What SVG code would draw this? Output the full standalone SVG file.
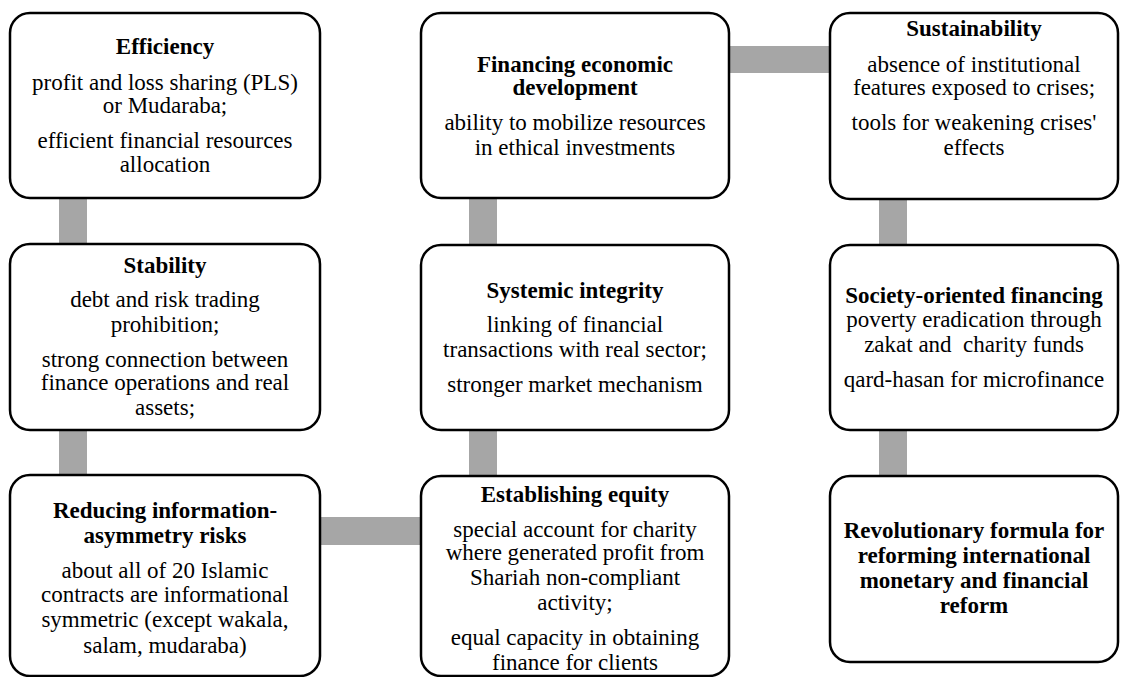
<svg xmlns="http://www.w3.org/2000/svg" width="1130" height="677" viewBox="0 0 1130 677">
  <style>
    .box { fill: #ffffff; stroke: #000000; stroke-width: 2.5; }
    .bar { fill: #a6a6a6; }
    text { font-family: "Liberation Serif", "Times New Roman", serif; font-size: 23px; fill: #000000; text-anchor: middle; }
    .t { font-weight: bold; }
  </style>

  <!-- thick grey links between the blocks -->
  <g id="connectors">
    <rect class="bar" x="59" y="196" width="28" height="50"/>
    <rect class="bar" x="59" y="428" width="28" height="49"/>
    <rect class="bar" x="469" y="196" width="28" height="51"/>
    <rect class="bar" x="469" y="428" width="28" height="50"/>
    <rect class="bar" x="879" y="197" width="28" height="50"/>
    <rect class="bar" x="879" y="428" width="28" height="50"/>
    <rect class="bar" x="727" y="46" width="105" height="27"/>
    <rect class="bar" x="318" y="517" width="105" height="28"/>
  </g>

  <g id="efficiency">
    <rect class="box" x="10" y="13" width="310" height="185" rx="20"/>
    <text class="t" x="165" y="54">Efficiency</text>
    <text x="165" y="90">profit and loss sharing (PLS)</text>
    <text x="165" y="113">or Mudaraba;</text>
    <text x="165" y="148">efficient financial resources</text>
    <text x="165" y="172">allocation</text>
  </g>

  <g id="financing">
    <rect class="box" x="421" y="13" width="308" height="185" rx="20"/>
    <text class="t" x="575" y="72">Financing economic</text>
    <text class="t" x="575" y="95">development</text>
    <text x="575" y="130">ability to mobilize resources</text>
    <text x="575" y="155">in ethical investments</text>
  </g>

  <g id="sustainability">
    <rect class="box" x="830" y="13" width="288" height="186" rx="20"/>
    <text class="t" x="974" y="36">Sustainability</text>
    <text x="974" y="72">absence of institutional</text>
    <text x="974" y="95">features exposed to crises;</text>
    <text x="974" y="130">tools for weakening crises'</text>
    <text x="974" y="155">effects</text>
  </g>

  <g id="stability">
    <rect class="box" x="10" y="244" width="310" height="186" rx="20"/>
    <text class="t" x="165" y="273">Stability</text>
    <text x="165" y="307">debt and risk trading</text>
    <text x="165" y="332">prohibition;</text>
    <text x="165" y="367">strong connection between</text>
    <text x="165" y="390">finance operations and real</text>
    <text x="165" y="415">assets;</text>
  </g>

  <g id="systemic-integrity">
    <rect class="box" x="421" y="245" width="308" height="185" rx="20"/>
    <text class="t" x="575" y="298">Systemic integrity</text>
    <text x="575" y="332">linking of financial</text>
    <text x="575" y="357">transactions with real sector;</text>
    <text x="575" y="392">stronger market mechanism</text>
  </g>

  <g id="society-oriented">
    <rect class="box" x="830" y="245" width="288" height="185" rx="20"/>
    <text class="t" x="974" y="303">Society-oriented financing</text>
    <text x="974" y="327">poverty eradication through</text>
    <text x="974" y="352" xml:space="preserve">zakat and  charity funds</text>
    <text x="974" y="387">qard-hasan for microfinance</text>
  </g>

  <g id="information-asymmetry">
    <rect class="box" x="10" y="475" width="310" height="201" rx="20"/>
    <text class="t" x="165" y="518">Reducing information-</text>
    <text class="t" x="165" y="543">asymmetry risks</text>
    <text x="165" y="578">about all of 20 Islamic</text>
    <text x="165" y="602">contracts are informational</text>
    <text x="165" y="627">symmetric (except wakala,</text>
    <text x="165" y="653">salam, mudaraba)</text>
  </g>

  <g id="equity">
    <rect class="box" x="421" y="476" width="308" height="200" rx="20"/>
    <text class="t" x="575" y="502">Establishing equity</text>
    <text x="575" y="537">special account for charity</text>
    <text x="575" y="560">where generated profit from</text>
    <text x="575" y="585">Shariah non-compliant</text>
    <text x="575" y="610">activity;</text>
    <text x="575" y="645">equal capacity in obtaining</text>
    <text x="575" y="670">finance for clients</text>
  </g>

  <g id="reform">
    <rect class="box" x="830" y="476" width="288" height="186" rx="20"/>
    <text class="t" x="974" y="538">Revolutionary formula for</text>
    <text class="t" x="974" y="563">reforming international</text>
    <text class="t" x="974" y="588">monetary and financial</text>
    <text class="t" x="974" y="613">reform</text>
  </g>
</svg>
